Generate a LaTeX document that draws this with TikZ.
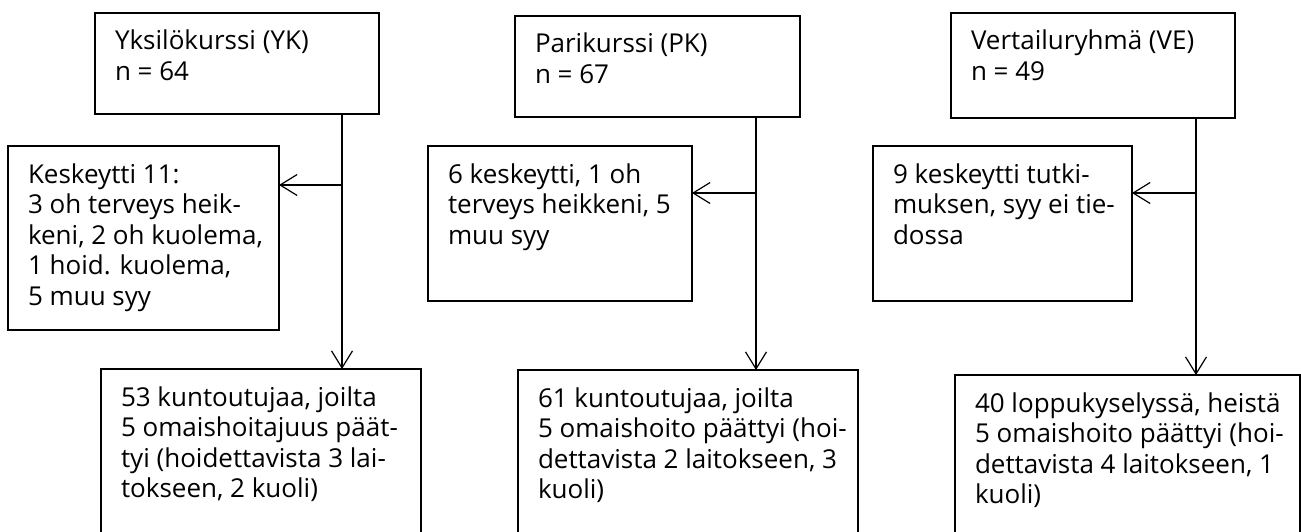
\documentclass[tikz,border=0pt]{standalone}
\usepackage{fontspec}
\setmainfont{Open Sans}
\usetikzlibrary{arrows.meta}
\hfuzz=400pt
\newcommand\bxtxt[3]{\parbox[c][#2][t]{#1}{\parbox[t]{500pt}{\raggedright\fontsize{26}{30.5}\selectfont\rule{0pt}{37pt}#3}}}
\tikzset{
  box/.style={draw, line width=1.2pt, inner xsep=20pt, inner ysep=0pt, anchor=north west, outer sep=0pt},
  conn/.style={line width=1.2pt, -{Straight Barb[length=17pt,width=21pt,line width=1.2pt]}},
  link/.style={line width=1.2pt}
}
\begin{document}
\begin{tikzpicture}[x=1pt,y=1pt]
\useasboundingbox (0,0) rectangle (1301,-532);
\clip (0,0) rectangle (1301,-532);
% column 1
\node[box] (YK) at (95,-13) {\bxtxt{244pt}{101pt}{Yksilökurssi (YK)\\n = 64}};
\node[box] (K1) at (8,-146) {\bxtxt{231pt}{184pt}{Keskeytti 11:\\3 oh terveys heik-\\keni, 2 oh kuolema,\\1 hoid. kuolema,\\5 muu syy}};
\node[box] (B1) at (101,-369) {\bxtxt{280pt}{180pt}{53 kuntoutujaa, joilta\\5 omaishoitajuus päät-\\tyi (hoidettavista 3 lai-\\tokseen, 2 kuoli)}};
\coordinate (j1) at (342,-185);
\draw[link] (YK.south -| j1) -- (j1);
\draw[conn] (j1) -- (B1.north -| j1);
\draw[conn] (j1) -- (K1.east |- j1);
% column 2
\node[box] (PK) at (515,-16) {\bxtxt{245pt}{101pt}{Parikurssi (PK)\\n = 67}};
\node[box] (K2) at (428,-146) {\bxtxt{224pt}{155pt}{6 keskeytti, 1 oh\\terveys heikkeni, 5\\muu syy}};
\node[box] (B2) at (518,-370) {\bxtxt{300pt}{180pt}{61 kuntoutujaa, joilta\\5 omaishoito päättyi (hoi-\\dettavista 2 laitokseen, 3\\kuoli)}};
\coordinate (j2) at (756,-193);
\draw[link] (PK.south -| j2) -- (j2);
\draw[conn] (j2) -- (B2.north -| j2);
\draw[conn] (j2) -- (K2.east |- j2);
% column 3
\node[box] (VE) at (951,-13) {\bxtxt{244pt}{105pt}{Vertailuryhmä (VE)\\n = 49}};
\node[box] (K3) at (873,-146) {\bxtxt{219pt}{155pt}{9 keskeytti tutki-\\muksen, syy ei tie-\\dossa}};
\node[box] (B3) at (955,-375) {\bxtxt{305pt}{180pt}{40 loppukyselyssä, heistä\\5 omaishoito päättyi (hoi-\\dettavista 4 laitokseen, 1\\kuoli)}};
\coordinate (j3) at (1196,-193);
\draw[link] (VE.south -| j3) -- (j3);
\draw[conn] (j3) -- (B3.north -| j3);
\draw[conn] (j3) -- (K3.east |- j3);
\end{tikzpicture}
\end{document}
